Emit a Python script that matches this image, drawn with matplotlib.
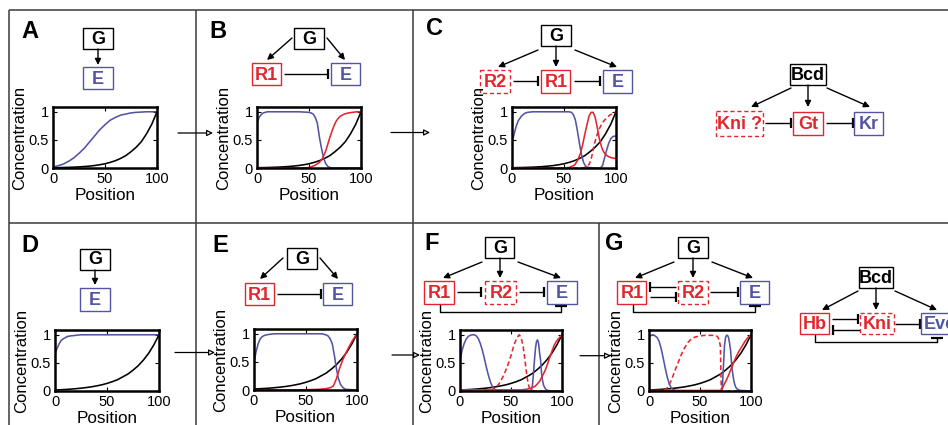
import matplotlib.pyplot as plt
from matplotlib.patches import Rectangle

plt.rcParams['font.family'] = ['Liberation Sans', 'DejaVu Sans']

RED = '#e3262e'
BLUE = '#5454a4'
W, H = 948, 425

# ---- curve data (position 0..100, concentration 0..1) ----
pos_5 = [0, 5, 10, 15, 20, 25, 30, 35, 40, 45, 50, 55, 60, 65, 70, 75, 80, 85, 90, 95, 100]

# activator gradient G, top row and bottom row
g_top = [0.005, 0.007, 0.009, 0.012, 0.015, 0.02, 0.026, 0.034, 0.044, 0.058, 0.075,
         0.1, 0.13, 0.17, 0.22, 0.29, 0.37, 0.47, 0.61, 0.78, 1.0]
g_bottom = [0.018, 0.022, 0.027, 0.033, 0.041, 0.05, 0.061, 0.074, 0.091, 0.11, 0.135,
            0.165, 0.2, 0.25, 0.3, 0.37, 0.45, 0.55, 0.67, 0.82, 1.0]

# panel A
a_blue = [0.02, 0.04, 0.07, 0.12, 0.18, 0.26, 0.35, 0.46, 0.57, 0.68, 0.77,
          0.85, 0.9, 0.94, 0.96, 0.98, 0.99, 0.995, 1.0, 1.0, 1.0]

# panel B
b_blue_x = [0, 2, 4, 6, 8, 10, 20, 30, 40, 50, 52, 54, 56, 58, 60, 62, 64, 66, 68, 70, 72, 80, 90, 100]
b_blue = [0.8, 0.9, 0.95, 0.98, 0.99, 1, 1, 1, 1, 0.99, 0.98, 0.96, 0.9, 0.8, 0.55, 0.35,
          0.18, 0.08, 0.03, 0.01, 0, 0, 0, 0]
b_red_x = [0, 10, 20, 30, 40, 48, 52, 56, 60, 63, 66, 68, 70, 72, 74, 76, 78, 80, 84, 88, 92, 96, 100]
b_red = [0, 0, 0, 0, 0, 0.005, 0.02, 0.05, 0.1, 0.17, 0.3, 0.42, 0.54, 0.65, 0.75, 0.83,
         0.88, 0.92, 0.96, 0.98, 0.99, 1.0, 1.0]

# panel C
c_blue_x = [0, 2, 4, 6, 9, 12, 15, 20, 30, 40, 50, 55, 57, 59, 61, 63, 65, 67, 69, 71, 73,
            80, 85, 87, 89, 91, 93, 95, 97, 100]
c_blue = [0.45, 0.6, 0.74, 0.84, 0.92, 0.97, 0.99, 1, 1, 1, 1, 1, 0.99, 0.95, 0.85, 0.65,
          0.42, 0.22, 0.09, 0.03, 0.01, 0, 0, 0.04, 0.18, 0.32, 0.44, 0.52, 0.56, 0.57]
c_red_x = [0, 10, 20, 30, 40, 50, 55, 60, 63, 66, 68, 70, 72, 74, 76, 78, 80, 82, 84, 86,
           88, 90, 93, 96, 100]
c_red = [0, 0, 0, 0, 0, 0, 0.01, 0.05, 0.13, 0.27, 0.42, 0.6, 0.76, 0.92, 0.99, 0.99, 0.9,
         0.72, 0.52, 0.38, 0.29, 0.24, 0.2, 0.18, 0.17]
c_red2_x = [0, 10, 20, 30, 40, 50, 60, 68, 70, 72, 74, 76, 78, 80, 82, 84, 86, 88, 90, 92,
            94, 96, 98, 100]
c_red2 = [0, 0, 0, 0, 0, 0, 0, 0, 0.01, 0.03, 0.06, 0.15, 0.32, 0.48, 0.6, 0.7, 0.77, 0.83,
          0.87, 0.91, 0.94, 0.96, 0.98, 1.0]

# panel D
d_blue_x = [0, 2, 4, 6, 8, 10, 12, 15, 20, 25, 30, 50, 75, 100]
d_blue = [0.66, 0.76, 0.84, 0.9, 0.93, 0.95, 0.97, 0.98, 0.99, 1, 1, 1, 1, 1]

# panel E
e_blue_x = [0, 2, 4, 6, 8, 10, 12, 15, 20, 30, 40, 50, 60, 66, 68, 70, 72, 74, 76, 78, 80,
            82, 84, 86, 88, 90, 100]
e_blue = [0.49, 0.68, 0.82, 0.91, 0.95, 0.97, 0.98, 0.99, 1, 1, 1, 1, 1, 1, 0.99, 0.98,
          0.96, 0.91, 0.82, 0.62, 0.38, 0.2, 0.1, 0.05, 0.02, 0.01, 0]
e_red_x = [0, 10, 20, 30, 40, 50, 60, 65, 70, 74, 77, 80, 83, 86, 89, 92, 95, 98, 100]
e_red = [0, 0, 0, 0, 0, 0.005, 0.01, 0.015, 0.025, 0.04, 0.07, 0.2, 0.38, 0.53, 0.65,
         0.76, 0.86, 0.95, 1.0]

# panel F
f_blue_x = [0, 2, 4, 6, 8, 10, 12, 14, 16, 18, 20, 22, 24, 26, 28, 30, 32, 34, 36, 40, 50,
            60, 68, 70, 71, 72, 73, 74, 75, 76, 77, 78, 79, 80, 81, 82, 84, 86, 90, 100]
f_blue = [0.55, 0.72, 0.84, 0.92, 0.97, 0.99, 1.0, 1.0, 0.98, 0.93, 0.84, 0.72, 0.57, 0.41,
          0.27, 0.15, 0.07, 0.03, 0.01, 0, 0, 0, 0, 0.02, 0.1, 0.3, 0.55, 0.76, 0.88, 0.91,
          0.85, 0.68, 0.55, 0.3, 0.18, 0.1, 0.03, 0.01, 0, 0]
f_red2_x = [0, 10, 20, 28, 30, 32, 34, 36, 38, 40, 42, 44, 46, 48, 50, 52, 54, 56, 58, 60,
            62, 63, 64, 65, 66, 67, 68, 69, 70, 75, 80, 90, 100]
f_red2 = [0, 0, 0, 0, 0.01, 0.03, 0.05, 0.08, 0.12, 0.18, 0.25, 0.33, 0.42, 0.52, 0.63,
          0.76, 0.87, 0.95, 1.0, 0.95, 0.78, 0.65, 0.5, 0.35, 0.22, 0.12, 0.06, 0.02, 0.01,
          0, 0, 0, 0]
f_red_x = [0, 10, 20, 30, 40, 50, 60, 65, 70, 74, 78, 80, 82, 84, 86, 88, 90, 92, 94, 96, 98, 100]
f_red = [0.02, 0.02, 0.02, 0.02, 0.02, 0.02, 0.02, 0.03, 0.05, 0.09, 0.17, 0.24, 0.31,
         0.39, 0.49, 0.6, 0.7, 0.8, 0.87, 0.92, 0.96, 1.0]

# panel G
gg_blue_x = [0, 2, 4, 6, 8, 10, 12, 14, 16, 18, 20, 22, 24, 26, 30, 40, 50, 60, 70, 71, 72,
             73, 74, 75, 76, 77, 78, 79, 80, 81, 82, 83, 84, 85, 86, 88, 90, 100]
gg_blue = [0.96, 0.99, 1.0, 0.98, 0.95, 0.88, 0.75, 0.58, 0.4, 0.24, 0.12, 0.05, 0.02,
           0.01, 0, 0, 0, 0, 0, 0.01, 0.1, 0.45, 0.8, 0.95, 0.99, 0.99, 0.95, 0.85, 0.72,
           0.48, 0.32, 0.2, 0.12, 0.07, 0.04, 0.02, 0.01, 0]
gg_red2_x = [0, 10, 12, 14, 16, 18, 20, 22, 24, 26, 28, 30, 32, 34, 36, 38, 40, 45, 50, 55,
             60, 65, 67, 68, 69, 70, 70.5, 71, 75, 80, 90, 100]
gg_red2 = [0, 0, 0, 0.005, 0.02, 0.06, 0.12, 0.2, 0.29, 0.39, 0.48, 0.57, 0.66, 0.74, 0.8,
           0.86, 0.9, 0.96, 0.98, 0.99, 0.99, 0.99, 0.97, 0.94, 0.88, 0.8, 0.3, 0, 0, 0, 0, 0]
gg_red_x = [0, 10, 20, 30, 40, 50, 60, 70, 71, 72, 74, 76, 78, 80, 82, 84, 86, 88, 90, 92,
            94, 96, 98, 100]
gg_red = [0.01, 0.01, 0.01, 0.01, 0.01, 0.01, 0.01, 0.01, 0.01, 0.05, 0.13, 0.2, 0.28,
          0.37, 0.46, 0.55, 0.63, 0.7, 0.76, 0.82, 0.88, 0.93, 0.97, 1.0]

fig = plt.figure(figsize=(W / 100, H / 100), dpi=100)

# background axes in pixel coordinates for frames and network diagrams
bg = fig.add_axes([0, 0, 1, 1])
bg.set_xlim(0, W)
bg.set_ylim(H, 0)
bg.axis('off')


def line(xs, ys, lw=1.0, color='black'):
    bg.plot(xs, ys, color=color, lw=lw, solid_capstyle='butt')


# panel frames
fc = '#3a3a3a'
line([9, W], [10, 10], 1.1, fc)
line([9, W], [223, 223], 1.1, fc)
line([9, 9], [10, H], 1.1, fc)
line([196, 196], [10, H], 1.1, fc)
line([413, 413], [10, H], 1.1, fc)
line([599, 599], [223, H], 1.1, fc)


def box(cx, cy, w, label, color='black', h=22, dashed=False):
    ls = (0, (3, 2)) if dashed else '-'
    bg.add_patch(Rectangle((cx - w / 2, cy - h / 2), w, h, fc='white', ec=color,
                           lw=1.0, ls=ls, zorder=3))
    bg.text(cx, cy + 1, label, color=color, fontsize=13, fontweight='bold',
            ha='center', va='center', zorder=4)


def arrow(x0, y0, x1, y1):
    bg.annotate('', xy=(x1, y1), xytext=(x0, y0),
                arrowprops=dict(arrowstyle='-|>', color='black', lw=1.0,
                                mutation_scale=9, shrinkA=0, shrinkB=0))


def inhibit(x0, x1, y, bar=5):
    line([x0, x1], [y, y])
    line([x1, x1], [y - bar, y + bar], 1.6)


def bracket(xa, xb, ya, yb, ybot):
    line([xa, xa, xb, xb], [ya, ybot, ybot, yb])
    line([xb - 6, xb + 6], [yb, yb], 1.6)


def step_arrow(x0, x1, y):
    bg.annotate('', xy=(x1, y), xytext=(x0, y),
                arrowprops=dict(arrowstyle='-|>', fc='white', ec='black', lw=0.9,
                                mutation_scale=9, shrinkA=0, shrinkB=0))


def letter(x, y, s):
    bg.text(x, y, s, fontsize=17, fontweight='bold', va='baseline', ha='left')


# panel letters
letter(21, 38, 'A')
letter(209, 38, 'B')
letter(426, 35, 'C')
letter(21, 252, 'D')
letter(212, 252, 'E')
letter(424, 250, 'F')
letter(605, 250, 'G')

# A
box(98, 38.5, 30, 'G', h=21)
arrow(98, 49, 98, 65)
box(98, 78, 30, 'E', BLUE)

# B
box(309, 38.5, 30, 'G', h=21)
arrow(292, 38, 267, 60)
arrow(327, 38, 345, 60)
box(266.5, 74, 29, 'R1', RED)
box(345.5, 74, 29, 'E', BLUE)
inhibit(284, 328, 74)

# C
box(556, 35.3, 30, 'G', h=21)
arrow(538, 50, 498, 67)
arrow(556, 46, 556, 67)
arrow(575, 50, 617, 67)
box(495, 81.3, 29.5, 'R2', RED, h=23, dashed=True)
box(556, 81.3, 29, 'R1', RED, h=23)
box(617.5, 81.3, 29, 'E', BLUE, h=23)
inhibit(513, 538, 81.3)
inhibit(574, 600, 81.3)

box(808, 74.5, 36, 'Bcd', h=21)
arrow(791, 88, 751, 107)
arrow(808, 85, 808, 107)
arrow(827, 88, 870, 107)
box(740, 123.3, 47, 'Kni ?', RED, h=25, dashed=True)
box(808.5, 123, 30, 'Gt', RED, h=23)
box(869, 123, 29, 'Kr', BLUE, h=23)
inhibit(765, 791, 123)
inhibit(826, 853, 123)

# D
box(95, 259, 30, 'G', h=21)
arrow(95, 270, 95, 285)
box(95, 299.5, 30, 'E', BLUE, h=23)

# E
box(302, 258.5, 30, 'G', h=21)
arrow(283, 258, 260, 279)
arrow(320, 258, 338, 279)
box(259.5, 294, 29, 'R1', RED)
box(337.5, 294, 29, 'E', BLUE)
inhibit(277, 321, 294)

# F
box(500, 247, 29, 'G', h=21)
arrow(482, 262, 443, 278)
arrow(500, 258, 500, 278)
arrow(518, 262, 561, 278)
box(439, 292, 29.5, 'R1', RED, h=23)
box(501, 292, 31, 'R2', RED, h=23, dashed=True)
box(562, 292, 29.5, 'E', BLUE, h=23)
inhibit(457, 481.5, 292)
inhibit(519, 544, 292)
bracket(440, 561, 303.5, 305.7, 311.7)

# G
box(693, 247, 30, 'G', h=21)
arrow(674, 262, 635, 278)
arrow(693, 258, 693, 278)
arrow(712, 262, 753, 278)
box(632, 292, 29, 'R1', RED, h=23)
box(693.5, 292, 30, 'R2', RED, h=23, dashed=True)
box(754.5, 292, 29, 'E', BLUE, h=23)
inhibit(676, 650, 286.7)
inhibit(650, 676, 296.7)
inhibit(710, 738, 292)
bracket(633, 755, 303.5, 305.7, 311.7)

# Bcd -> Hb, Kni, Eve
box(876, 277.5, 34, 'Bcd', h=21)
arrow(858, 291, 822, 310)
arrow(876, 288, 876, 310)
arrow(895, 291, 937, 310)
box(815, 323.5, 29, 'Hb', RED, h=21)
box(877, 323.5, 34, 'Kni', RED, h=21, dashed=True)
box(940, 323.5, 38, 'Eve', BLUE, h=21)
inhibit(832, 858, 319)
inhibit(860, 833, 329.5)
inhibit(895, 920, 323.5)
bracket(815, 937, 334, 337.7, 341.7)

# transitions between panels
step_arrow(178, 213, 133)
step_arrow(391, 430, 132.5)
step_arrow(175, 215, 352.5)
step_arrow(392, 420, 355)
step_arrow(580, 611, 355.7)


def px_axes(x0, y0, x1, y1):
    ax = fig.add_axes([x0 / W, 1 - y1 / H, (x1 - x0) / W, (y1 - y0) / H])
    ax.set_xlim(0, 100)
    ax.set_ylim(0, 1.085)
    ax.set_xticks([0, 50, 100])
    ax.set_yticks([0, 0.5, 1])
    ax.set_yticklabels(['0', '0.5', '1'])
    ax.tick_params(direction='in', top=True, right=True, length=3, width=0.8,
                   labelsize=10.5, pad=3)
    for s in ax.spines.values():
        s.set_linewidth(1.8)
    ax.set_xlabel('Position', fontsize=12.3, labelpad=1)
    ax.set_ylabel('Concentration', fontsize=12, labelpad=1)
    return ax


lw = 1.15
dash = (0, (3, 1.8))

ax = px_axes(53, 107, 157, 168)
ax.plot(pos_5, g_top, color='black', lw=lw)
ax.plot(pos_5, a_blue, color=BLUE, lw=lw)

ax = px_axes(257, 107, 361, 168)
ax.plot(pos_5, g_top, color='black', lw=lw)
ax.plot(b_blue_x, b_blue, color=BLUE, lw=lw)
ax.plot(b_red_x, b_red, color=RED, lw=lw)

ax = px_axes(512, 107, 616, 168)
ax.plot(pos_5, g_top, color='black', lw=lw)
ax.plot(c_blue_x, c_blue, color=BLUE, lw=lw)
ax.plot(c_red_x, c_red, color=RED, lw=lw)
ax.plot(c_red2_x, c_red2, color=RED, lw=lw, ls=dash)

ax = px_axes(55, 330, 159, 391)
ax.plot(pos_5, g_bottom, color='black', lw=lw)
ax.plot(d_blue_x, d_blue, color=BLUE, lw=lw)

ax = px_axes(254, 329, 357, 390)
ax.plot(pos_5, g_bottom, color='black', lw=lw)
ax.plot(e_blue_x, e_blue, color=BLUE, lw=lw)
ax.plot(e_red_x, e_red, color=RED, lw=lw)

ax = px_axes(460, 330, 562, 391)
ax.plot(pos_5, g_bottom, color='black', lw=lw)
ax.plot(f_blue_x, f_blue, color=BLUE, lw=lw)
ax.plot(f_red2_x, f_red2, color=RED, lw=lw, ls=dash)
ax.plot(f_red_x, f_red, color=RED, lw=lw)

ax = px_axes(649, 330, 751, 391)
ax.plot(pos_5, g_bottom, color='black', lw=lw)
ax.plot(gg_blue_x, gg_blue, color=BLUE, lw=lw)
ax.plot(gg_red2_x, gg_red2, color=RED, lw=lw, ls=dash)
ax.plot(gg_red_x, gg_red, color=RED, lw=lw)

fig.savefig('out.png', dpi=100)
